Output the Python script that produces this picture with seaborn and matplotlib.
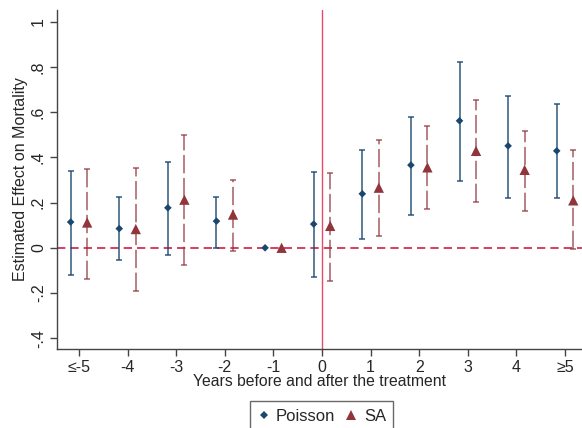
import pandas as pd
import numpy as np
import matplotlib
matplotlib.use("Agg")
import matplotlib.pyplot as plt
import seaborn as sns

# event-time categories
periods = ["≤-5", "-4", "-3", "-2", "-1", "0", "1", "2", "3", "4", "≥5"]
rel_time = [-5, -4, -3, -2, -1, 0, 1, 2, 3, 4, 5]

# Poisson estimates and 95% CI
poisson_est = [0.114, 0.085, 0.177, 0.118, 0.0, 0.105, 0.239, 0.366, 0.562, 0.451, 0.429]
poisson_lo = [-0.119, -0.054, -0.032, 0.001, np.nan, -0.130, 0.038, 0.147, 0.295, 0.220, 0.220]
poisson_hi = [0.341, 0.227, 0.381, 0.227, np.nan, 0.335, 0.435, 0.578, 0.824, 0.673, 0.637]

# Sun & Abraham estimates and 95% CI
sa_est = [0.112, 0.083, 0.213, 0.147, 0.0, 0.097, 0.266, 0.356, 0.429, 0.345, 0.210]
sa_lo = [-0.136, -0.190, -0.078, -0.013, np.nan, -0.145, 0.053, 0.170, 0.202, 0.162, -0.007]
sa_hi = [0.348, 0.353, 0.497, 0.302, np.nan, 0.330, 0.475, 0.541, 0.653, 0.519, 0.431]

blue = "#1a476f"
red = "#90353b"

df = pd.DataFrame({
    "t": rel_time * 2,
    "est": poisson_est + sa_est,
    "lo": poisson_lo + sa_lo,
    "hi": poisson_hi + sa_hi,
    "model": ["Poisson"] * len(rel_time) + ["SA"] * len(rel_time),
})
df["x"] = df["t"] + df["model"].map({"Poisson": -0.17, "SA": 0.17})

sns.set_style("ticks")
plt.rcParams["font.family"] = ["Liberation Sans", "DejaVu Sans"]

fig = plt.figure(figsize=(5.82, 4.28), dpi=100)
ax = fig.add_axes([0.098, 0.185, 0.902, 0.792])

# reference lines
ax.axhline(0, color="#d01c48", lw=1.2, ls=(0, (5, 3)), zorder=1)
ax.axvline(0, color="#e34a6c", lw=1.0, zorder=1)

# confidence intervals
p = df[df["model"] == "Poisson"].dropna()
s = df[df["model"] == "SA"].dropna()
ax.errorbar(p["x"], p["est"], yerr=[p["est"] - p["lo"], p["hi"] - p["est"]],
            fmt="none", ecolor=blue, elinewidth=1.1, capsize=2.3, capthick=1.1, alpha=0.9, zorder=2)
eb = ax.errorbar(s["x"], s["est"], yerr=[s["est"] - s["lo"], s["hi"] - s["est"]],
                 fmt="none", ecolor=red, elinewidth=1.1, capsize=2.3, capthick=1.1, alpha=0.8, zorder=2)
eb[2][0].set_linestyle((0, (12, 3)))

# point estimates
sns.scatterplot(data=df, x="x", y="est", hue="model", style="model",
                palette={"Poisson": blue, "SA": red},
                markers={"Poisson": "D", "SA": "^"},
                size="model", sizes={"Poisson": 15, "SA": 55},
                edgecolor="none", ax=ax, zorder=3)

ax.set_xlim(-5.45, 5.35)
ax.set_ylim(-0.447, 1.053)
ax.set_xticks(rel_time)
ax.set_xticklabels(periods, fontsize=11.5)
yt = [-0.4, -0.2, 0, 0.2, 0.4, 0.6, 0.8, 1]
ax.set_yticks(yt)
ax.set_yticklabels(["-.4", "-.2", "0", ".2", ".4", ".6", ".8", "1"],
                   fontsize=11.5, rotation=90, va="center")
ax.tick_params(axis="both", length=5, width=1, color="#444444", pad=3)
ax.set_xlabel("Years before and after the treatment", fontsize=11.3, labelpad=-1)
ax.set_ylabel("Estimated Effect on Mortality", fontsize=11.5, labelpad=2)
sns.despine(ax=ax)
for sp in ["left", "bottom"]:
    ax.spines[sp].set_color("#444444")
    ax.spines[sp].set_linewidth(1)

handles, labels = ax.get_legend_handles_labels()
ax.get_legend().remove()
leg = fig.legend(handles, labels, loc="upper center", bbox_to_anchor=(0.553, 0.063),
                 ncol=2, frameon=True, fancybox=False, edgecolor="#444444",
                 fontsize=12, handlelength=0.7, handletextpad=0.4,
                 columnspacing=0.6, borderpad=0.45, borderaxespad=0)
leg.get_frame().set_linewidth(1)

fig.savefig("out.png", dpi=100)
